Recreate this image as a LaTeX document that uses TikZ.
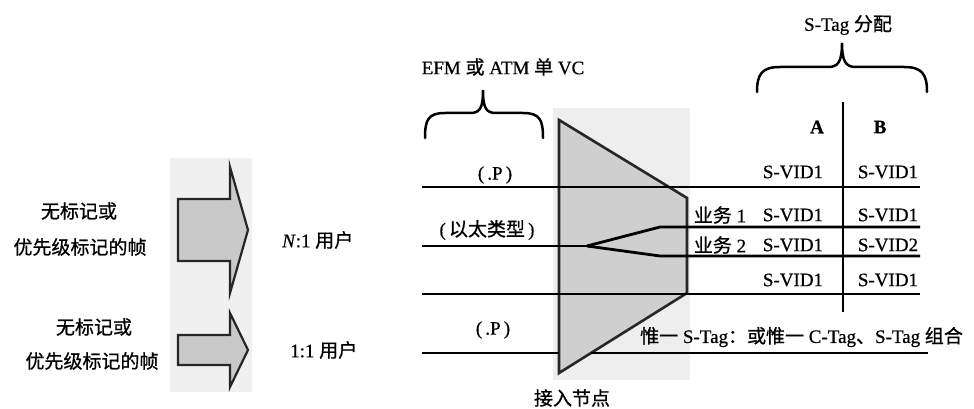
\documentclass[tikz,border=0pt]{standalone}
\usepackage{fontspec}
\setmainfont{Liberation Serif}[FakeBold=0.6]
\newfontfamily\cjk[FakeBold=0.8]{Noto Sans CJK SC}
\newcommand\zh[1]{{\cjk\fontsize{19}{20}\selectfont #1}}
\begin{document}
\begin{tikzpicture}[x=1pt,y=-1pt,line join=miter,
  txt/.style={inner sep=0pt,font=\fontsize{19}{21}\selectfont},
  wire/.style={line width=2.8pt},
  outl/.style={line width=2.6pt},
  arrowshape/.style={fill=gray!42,draw=black!85,line width=2.2pt},
  curly/.style={line width=2.5pt,line cap=round}]
\useasboundingbox (0,0) rectangle (974,409);

% scanned background panels
\fill[gray!12] (170,158) rectangle (252,392);
\fill[gray!13] (553,108) rectangle (690,380);

% block arrows
\filldraw[arrowshape] (178,199) -- (230,199) -- (230,167) -- (248,230) -- (230,293) -- (230,261) -- (178,261) -- cycle;
\filldraw[arrowshape] (178,335) -- (230,335) -- (230,313) -- (248,350) -- (230,387) -- (230,365) -- (178,365) -- cycle;

% access node trapezoid
\coordinate (tA) at (559,120);
\coordinate (tB) at (687,198);
\coordinate (tC) at (687,293);
\coordinate (tD) at (559,373);
\filldraw[fill=gray!38,draw=black!85,outl] (tA) -- (tB) -- (tC) -- (tD) -- cycle;

% connection lines
\coordinate (a1) at (422,187); \coordinate (b1) at (920,187);
\coordinate (a2) at (422,246); \coordinate (br) at (587,246);
\coordinate (u1) at (660,227); \coordinate (u2) at (920,227);
\coordinate (d1) at (660,256); \coordinate (d2) at (920,256);
\coordinate (a3) at (422,294); \coordinate (b3) at (920,294);
\coordinate (a4) at (422,353); \coordinate (m4) at (559,353);
\coordinate (c4) at (591,353); \coordinate (b4) at (928,353);
\coordinate (vt) at (843,102); \coordinate (vb) at (843,312);
\draw[wire] (a1) -- (b1);
\draw[wire] (a2) -- (br);
\draw[wire] (br) -- (u1) -- (u2);
\draw[wire] (br) -- (d1) -- (d2);
\draw[wire] (a3) -- (b3);
\draw[wire] (a4) -- (m4);
\draw[wire] (c4) -- (b4);
\draw[wire] (vt) -- (vb);

% braces
\draw[curly] (425,138) .. controls (425,120) and (428,113) .. (445,113) -- (470,113)
  .. controls (480,113) and (483,108) .. (483,90)
  .. controls (483,108) and (486,113) .. (496,113) -- (523,113)
  .. controls (540,113) and (543,120) .. (543,138);
\draw[curly] (757,92) .. controls (757,74) and (762,67) .. (780,67) -- (828,67)
  .. controls (838,67) and (842,62) .. (842,43)
  .. controls (842,62) and (846,67) .. (856,67) -- (904,67)
  .. controls (922,67) and (927,74) .. (927,92);

% texts
\node[txt] (t1a) at (79,211) {\zh{无标记或}};
\node[txt] (t1b) at (80,247) {\zh{优先级标记的帧}};
\node[txt] (t2a) at (94,327) {\zh{无标记或}};
\node[txt] (t2b) at (92,361) {\zh{优先级标记的帧}};
\node[txt,anchor=west] (n1) at (282,240) {\textit{N}:1 \zh{用户}};
\node[txt,anchor=west] (n2) at (290,350) {1:1 \zh{用户}};
\node[txt] (efm) at (503,67) {EFM \zh{或} ATM \zh{单} VC};
\node[txt] (p1) at (495,175) {(\,.P\,)};
\node[txt] (eth) at (487,230) {(\,\zh{以太类型}\,)};
\node[txt] (p2) at (493,330) {(\,.P\,)};
\node[txt] (acc) at (572,398) {\zh{接入节点}};
\node[txt] (stag) at (848,25) {S-Tag \zh{分配}};
\node[txt] (hA) at (817,127) {\textbf{A}};
\node[txt] (hB) at (880,127) {\textbf{B}};
\node[txt] (r1a) at (793,172) {S-VID1};
\node[txt] (r1b) at (888,172) {S-VID1};
\node[txt] (sv1) at (720,215) {\zh{业务} 1};
\node[txt] (r2a) at (793,215) {S-VID1};
\node[txt] (r2b) at (888,215) {S-VID1};
\node[txt] (sv2) at (720,245) {\zh{业务} 2};
\node[txt] (r3a) at (793,245) {S-VID1};
\node[txt] (r3b) at (888,245) {S-VID2};
\node[txt] (r4a) at (793,280) {S-VID1};
\node[txt] (r4b) at (888,280) {S-VID1};
\node[txt,anchor=west] (uniq) at (640,337) {\zh{惟一} S-Tag\zh{：或惟一} C-Tag\zh{、}S-Tag \zh{组合}};
\end{tikzpicture}
\end{document}
